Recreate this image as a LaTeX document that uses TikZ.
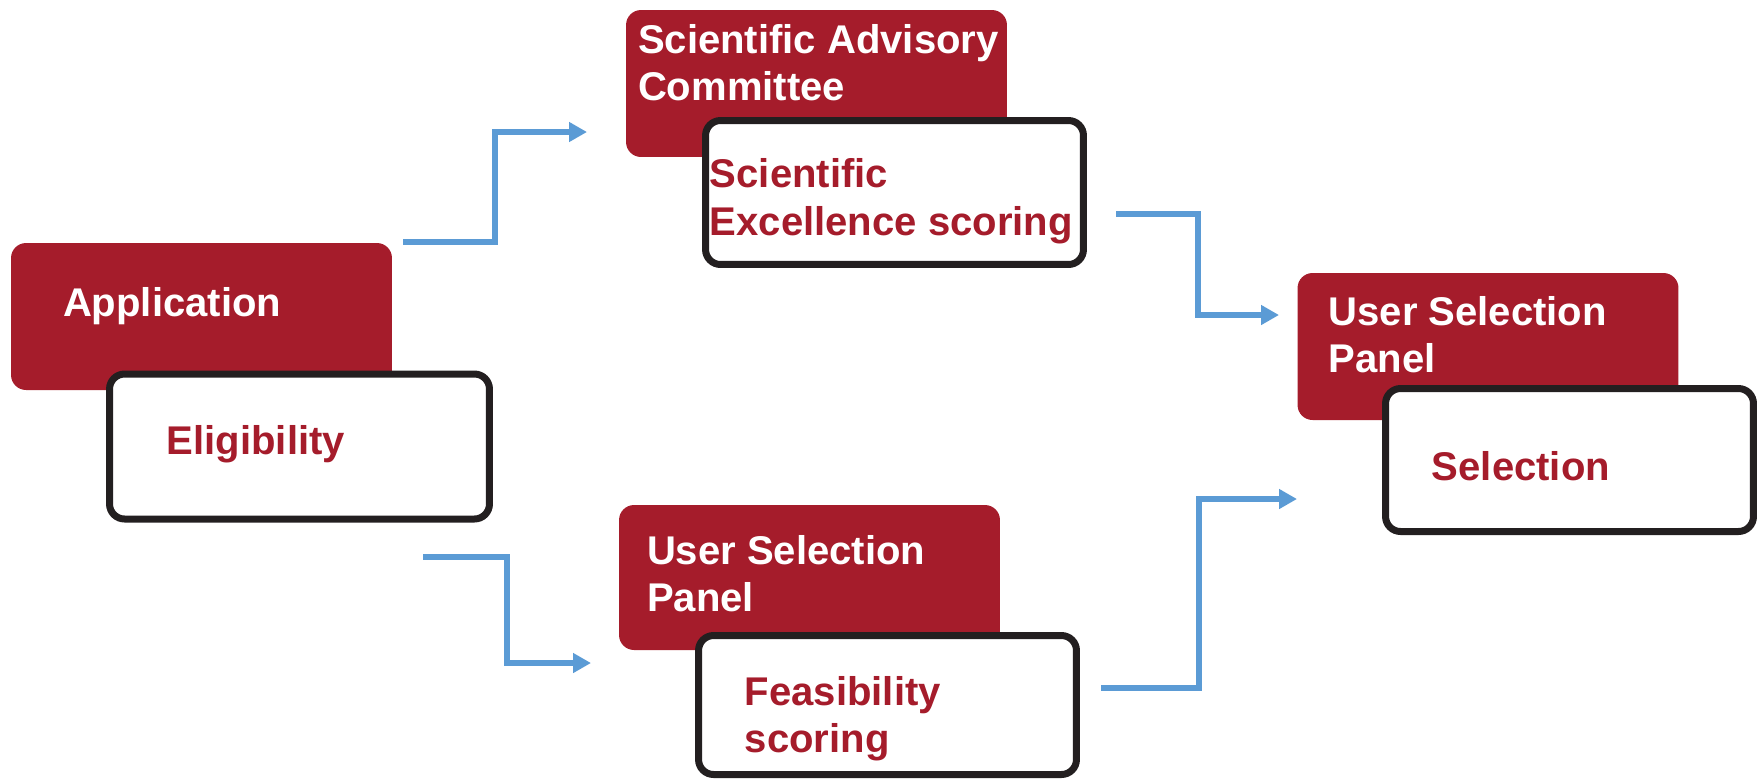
\documentclass[tikz,border=0pt]{standalone}
\usepackage{fontspec}
\setmainfont{Liberation Sans}
\usetikzlibrary{calc,arrows.meta}
\definecolor{panelred}{RGB}{165,28,43}
\definecolor{flowblue}{RGB}{91,155,213}
\definecolor{edgeblack}{RGB}{35,31,32}

\begin{document}
\begin{tikzpicture}[x=0.02cm,y=-0.02cm,
  redbox/.style={fill=panelred,rounded corners=0.3cm,minimum width=7.62cm,minimum height=2.94cm,inner sep=0pt},
  whitebox/.style={draw=edgeblack,line width=0.14cm,fill=white,rounded corners=0.3cm,minimum width=7.6cm,minimum height=2.9cm,inner sep=0pt},
  headtext/.style={text=white,font=\bfseries\fontsize{22.8}{26.8}\selectfont,anchor=base west,inner sep=0pt,align=left},
  tasktext/.style={headtext,text=panelred},
  flow/.style={draw=flowblue,line width=0.12cm,-{Triangle[length=0.36cm,width=0.38cm]}}]
\useasboundingbox (0,0) rectangle (1760,779);

% text anchors sit on the last baseline
\node[redbox] (app) at (201.5,316.5) {};
\node[whitebox] (elig) at (299.5,446.5) {};
\node[headtext] (appt) at ($(app.north west)+(52,74)$) {Application};
\node[tasktext] (eligt) at ($(elig.north west)+(60.5,83.5)$) {Eligibility};

\node[redbox] (sac) at (816.5,83.5) {};
\node[whitebox,minimum width=7.56cm,minimum height=2.88cm] (sci) at (894.5,192.5) {};
\node[headtext] (sact) at ($(sac.north west)+(12,91)$) {Scientific Advisory\\Committee};
\node[tasktext] (scit) at ($(sci.north west)+(7.5,118)$) {Scientific\\Excellence scoring};

\node[redbox,minimum height=2.9cm] (uspb) at (809.5,577.5) {};
\node[whitebox,minimum width=7.56cm,minimum height=2.78cm] (feas) at (887.5,705) {};
\node[headtext] (uspbt) at ($(uspb.north west)+(28,107)$) {User Selection\\Panel};
\node[tasktext] (feast) at ($(feas.north west)+(49.5,120.5)$) {Feasibility\\scoring};

\node[redbox] (uspr) at (1488,346.5) {};
\node[whitebox,minimum width=7.36cm,minimum height=2.86cm] (sel) at (1569.5,460) {};
\node[headtext] (usprt) at ($(uspr.north west)+(31,100)$) {User Selection\\Panel};
\node[tasktext] (selt) at ($(sel.north west)+(49.5,95.5)$) {Selection};

\coordinate (f1s) at (403,242);
\coordinate (f1e) at (587,132);
\coordinate (f2s) at (423,557);
\coordinate (f2e) at (591,663);
\coordinate (f3s) at (1116,214);
\coordinate (f3e) at (1279,315);
\coordinate (f4s) at (1101,688);
\coordinate (f4e) at (1297,499);
\draw[flow] (f1s) -| ($(f1s)!.5!(f1e)$) |- (f1e);
\draw[flow] (f2s) -| ($(f2s)!.5!(f2e)$) |- (f2e);
\draw[flow] (f3s) -| ($(f3s)!.5!(f3e)$) |- (f3e);
\draw[flow] (f4s) -| ($(f4s)!.5!(f4e)$) |- (f4e);
\end{tikzpicture}
\end{document}
